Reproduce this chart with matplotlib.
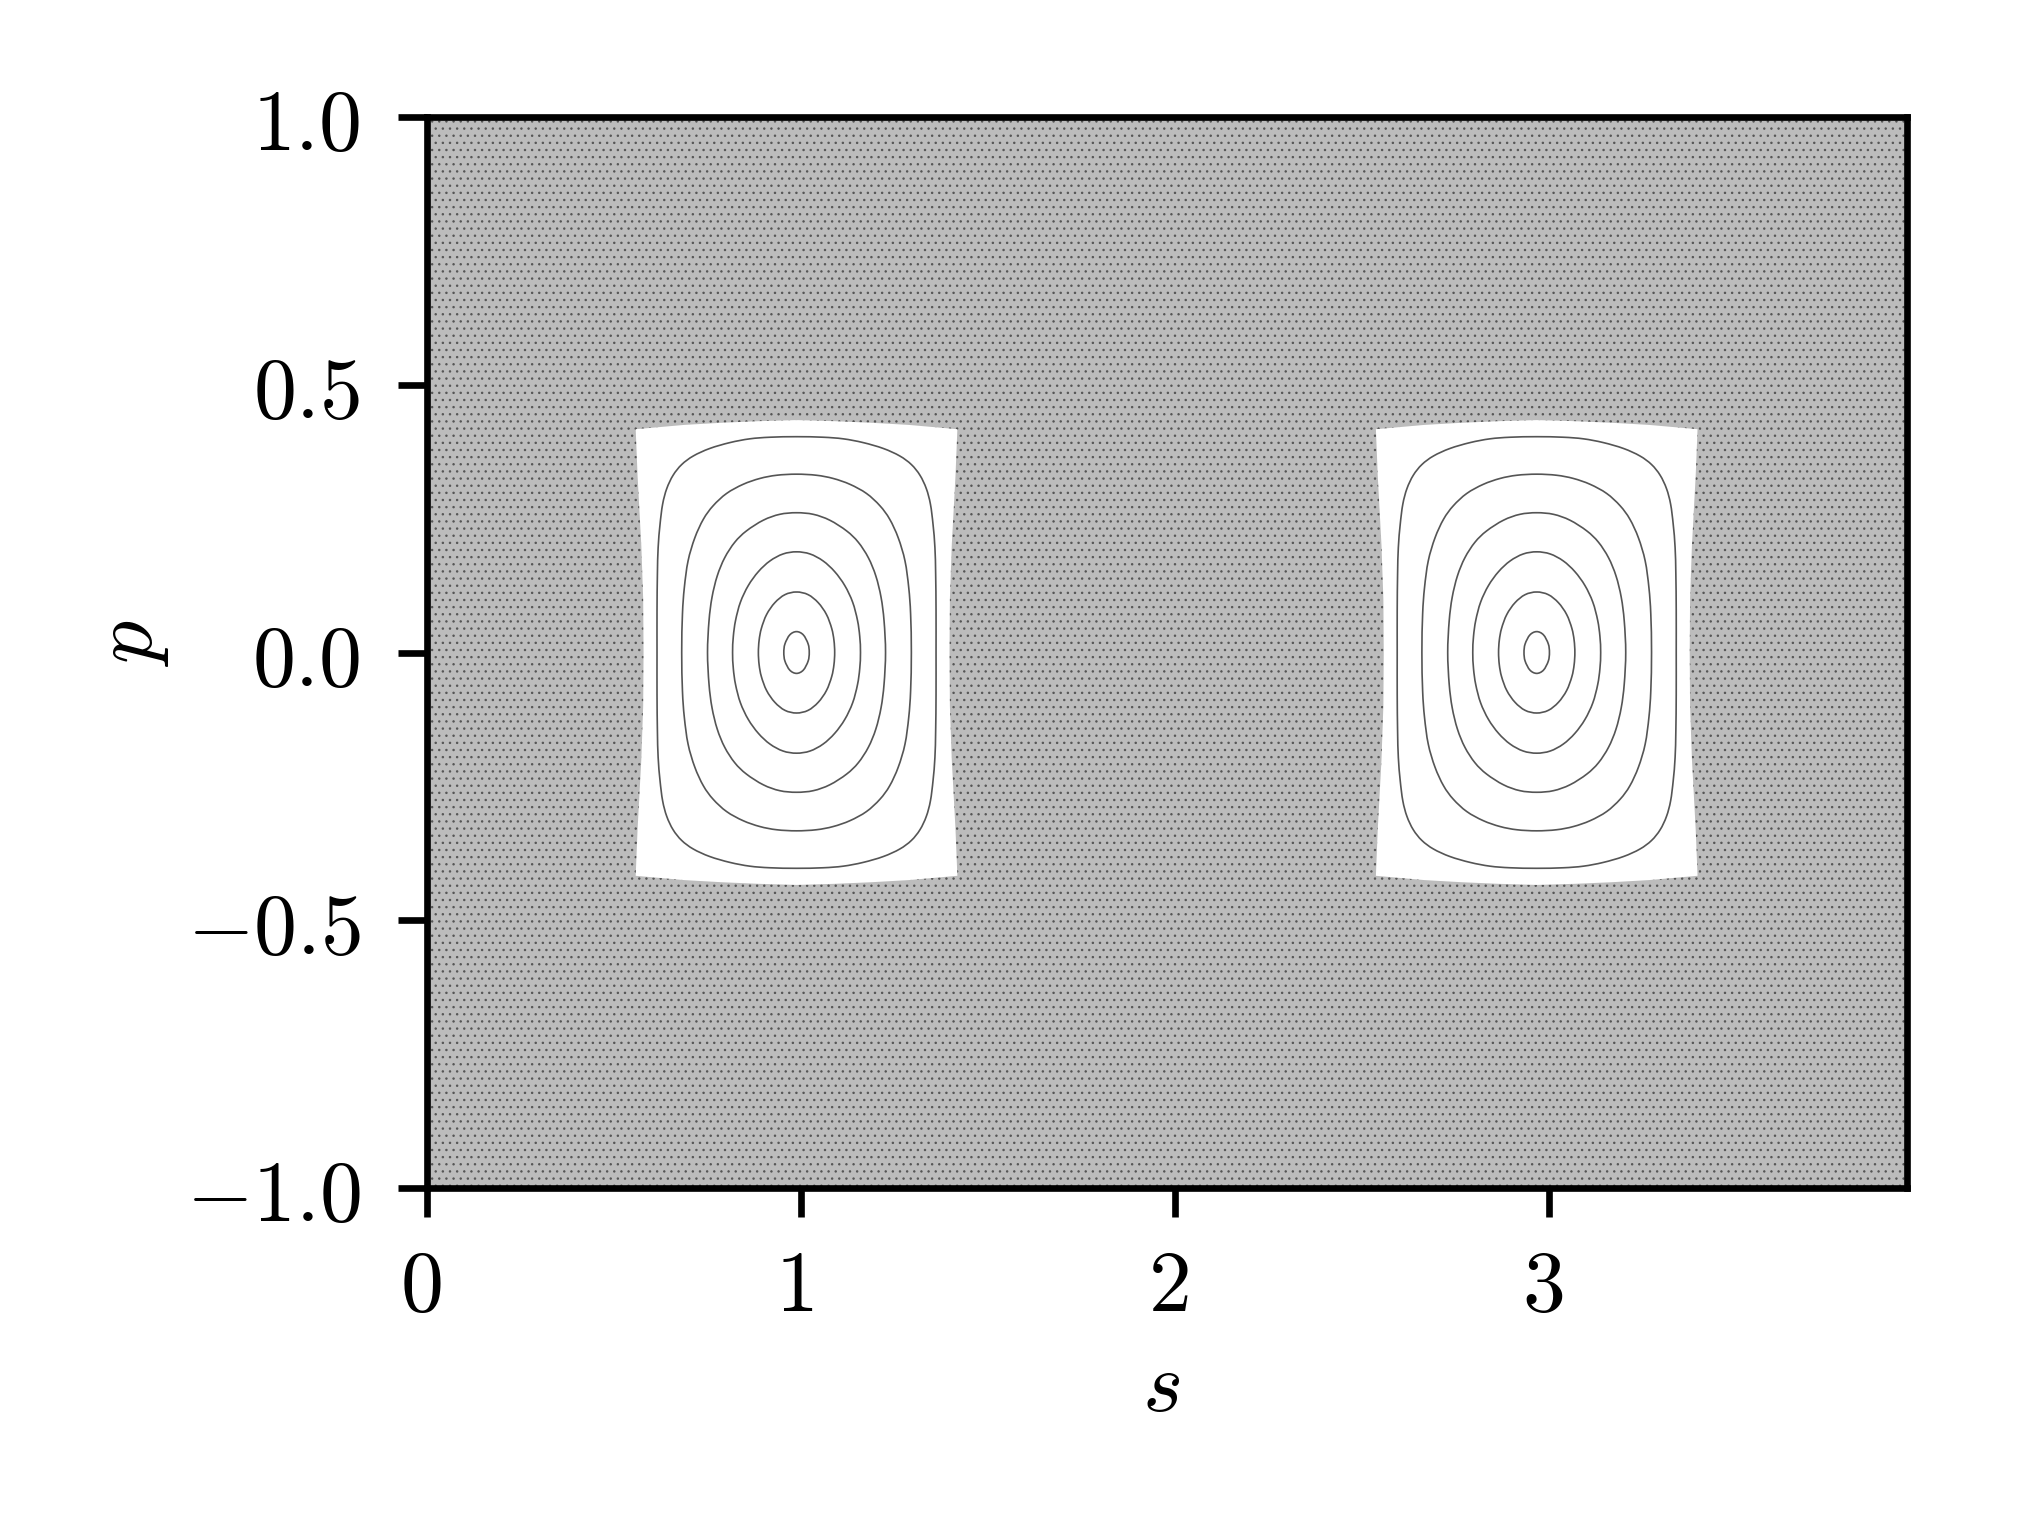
import matplotlib
matplotlib.use("Agg")
import matplotlib.pyplot as plt
import numpy as np
from matplotlib.path import Path
from matplotlib.patches import PathPatch
from matplotlib.transforms import ScaledTranslation

# island centres on the s axis
centres_s = [0.988, 2.967]

# one quadrant of each closed orbit, relative to the island centre (ds, dp)
orbit_1 = [(0, .039), (.018, .033), (.031, .016), (.034, 0)]
orbit_2 = [(0, .113), (.031, .108), (.058, .093), (.080, .071), (.094, .045), (.100, .023), (.102, 0)]
orbit_3 = [(0, .188), (.036, .184), (.071, .171), (.102, .151), (.129, .125), (.150, .094),
           (.163, .060), (.169, .030), (.171, 0)]
orbit_4 = [(0, .261), (.045, .258), (.089, .247), (.134, .227), (.165, .206), (.192, .177),
           (.212, .143), (.226, .103), (.234, .059), (.238, 0)]
orbit_5 = [(0, .333), (.053, .331), (.098, .325), (.143, .314), (.187, .297), (.223, .274),
           (.249, .249), (.272, .214), (.290, .171), (.300, .121), (.305, .072), (.307, 0)]
orbit_6 = [(0, .403), (.071, .402), (.125, .399), (.178, .392), (.232, .381), (.276, .367),
           (.307, .351), (.330, .331), (.347, .306), (.358, .277), (.365, .239), (.370, .196),
           (.372, .146), (.373, .078), (.373, 0)]
orbits = [orbit_1, orbit_2, orbit_3, orbit_4, orbit_5, orbit_6]

# one quadrant of the empty island outline
island_edge = [(0, .434), (.10, .432), (.20, .429), (.30, .425), (.430, .417),
               (.425, .33), (.415, .20), (.410, .10), (.409, 0)]

x_ticks = [0, 1, 2, 3]
y_ticks = [-1.0, -0.5, 0.0, 0.5, 1.0]
x_max = 3.957

plt.rcParams["mathtext.fontset"] = "cm"
plt.rcParams["font.size"] = 10.3
plt.rcParams["hatch.linewidth"] = 0.12
plt.rcParams["hatch.color"] = "#555555"


def full_loop(quadrant):
    q = np.array(quadrant)
    right = np.vstack([q, q[-2::-1] * [1, -1]])
    left = right[-2:0:-1] * [-1, 1]
    return np.vstack([right, left])


def smooth_path(loop, cx):
    # bezier pieces running through the read points
    pts = loop + [cx, 0]
    slope = (np.roll(pts, -1, axis=0) - np.roll(pts, 1, axis=0)) / 6
    verts = [pts[0]]
    codes = [Path.MOVETO]
    for i in range(len(pts)):
        j = (i + 1) % len(pts)
        verts += [pts[i] + slope[i], pts[j] - slope[j], pts[j]]
        codes += [Path.CURVE4] * 3
    return Path(verts, codes)


fig = plt.figure(figsize=(3.375, 2.53))
ax = fig.add_axes([427 / 2025, 1 - 1189 / 1518, (1907 - 427) / 2025, (1189 - 118) / 1518])

# chaotic sea: stipple, not individual points
ax.set_facecolor("#bcbcbc")
ax.patch.set_hatch("." * 14)
ax.patch.set_edgecolor("#555555")

for cx in centres_s:
    edge = full_loop(island_edge) + [cx, 0]
    ax.fill(edge[:, 0], edge[:, 1], color="white", lw=0, zorder=2)
    for orbit in orbits:
        ax.add_patch(PathPatch(smooth_path(full_loop(orbit), cx), fill=False,
                               ec="#555555", lw=0.2, zorder=3))

ax.set_xlim(0, x_max)
ax.set_ylim(-1, 1)
ax.set_xticks(x_ticks)
ax.set_xticklabels([f"${t}$" for t in x_ticks])
ax.set_yticks(y_ticks)
ax.set_yticklabels([f"${t:.1f}$" for t in y_ticks])
ax.tick_params(width=0.8, length=3.5)
ax.tick_params(axis="x", pad=3.3)
ax.tick_params(axis="y", pad=4.5)
for sp in ax.spines.values():
    sp.set_linewidth(0.8)
    sp.set_zorder(5)

# labels sit a little left of the ticks in the original
nudge = ScaledTranslation(-0.8 / 72, 0, fig.dpi_scale_trans)
for lab in ax.get_xticklabels():
    lab.set_transform(lab.get_transform() + nudge)

ax.set_xlabel("$s$")
ax.set_ylabel("$p$")
ax.xaxis.set_label_coords(0.496, -0.147)
ax.yaxis.set_label_coords(-0.173, 0.51)

fig.savefig("out.png", dpi=600)
